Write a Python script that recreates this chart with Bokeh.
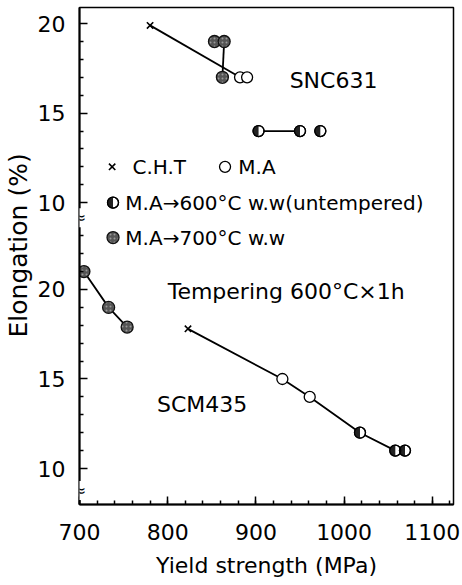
from math import pi
from bokeh.plotting import figure
from bokeh.models import Range1d, FixedTicker, Label, Title
from bokeh.embed import file_html
from bokeh.resources import INLINE

# ---------------- data ----------------
# Upper panel: SNC631 (elongation %)
snc_cht_x = [780]
snc_cht_y = [19.9]
snc_ma_x = [882, 890]
snc_ma_y = [17.0, 17.0]
snc_w600_x = [903, 950, 973]
snc_w600_y = [14.0, 14.0, 14.0]
snc_w700_x = [853, 864, 862]
snc_w700_y = [19.0, 19.0, 17.0]

# Lower panel: SCM435 (elongation %)
scm_w700_x = [705, 733, 754]
scm_w700_y = [21.0, 19.0, 17.9]
scm_cht_x = [823]
scm_cht_y = [17.8]
scm_ma_x = [930, 961]
scm_ma_y = [15.0, 14.0]
scm_w600_x = [1018, 1058, 1069]
scm_w600_y = [12.0, 11.0, 11.0]

x_major = [700, 800, 900, 1000, 1100]
y_major = [10, 15, 20]
y_minor_lower = [11, 12, 13, 14, 16, 17, 18, 19, 21, 22, 23]
y_minor_upper = [11, 12, 13, 14, 16, 17, 18, 19]

# ---------------- layout ----------------
FONT = "DejaVu Sans"
OFF = 14.85          # offset of the upper panel on the shared axis
Y0, Y1 = 7.99, 35.75

p = figure(width=462, height=585, output_backend="svg", toolbar_location=None,
           x_range=Range1d(700, 1124), y_range=Range1d(Y0, Y1),
           min_border_left=79, min_border_right=9, min_border_top=7,
           min_border_bottom=81)
p.extra_y_ranges = {"up": Range1d(Y0 - OFF, Y1 - OFF)}
p.background_fill_color = "white"
p.border_fill_color = "white"
p.grid.visible = False
p.outline_line_color = "black"
p.outline_line_width = 1.5

# axes
p.xaxis.ticker = FixedTicker(ticks=x_major,
                             minor_ticks=[v for v in range(700, 1121, 20)])
yt = y_major + [v + OFF for v in y_major]
ym = y_minor_lower + [v + OFF for v in y_minor_upper]
p.yaxis.ticker = FixedTicker(ticks=yt, minor_ticks=ym)
over = {}
for v in y_major:
    over[v] = str(v)
    over[v + OFF] = str(v)
p.yaxis.major_label_overrides = over

for ax in (p.xaxis, p.yaxis):
    ax.axis_line_width = 2
    ax.axis_line_color = "black"
    ax.major_tick_in = 8
    ax.major_tick_out = 0
    ax.minor_tick_in = 4
    ax.minor_tick_out = 0
    ax.major_tick_line_width = 1.5
    ax.minor_tick_line_width = 1.5
    ax.major_tick_line_color = "black"
    ax.minor_tick_line_color = "black"
    ax.major_label_text_font = FONT
    ax.major_label_text_font_size = "22px"
    ax.major_label_text_color = "black"
p.yaxis.major_label_standoff = 14
p.xaxis.major_label_standoff = 19
p.xaxis.axis_label = "Yield strength (MPa)"
p.xaxis.axis_label_text_font = FONT
p.xaxis.axis_label_text_font_size = "22px"
p.xaxis.axis_label_text_font_style = "normal"
p.xaxis.axis_label_text_color = "black"
p.xaxis.axis_label_standoff = 10

p.add_layout(Title(text="Elongation (%)", align="left", offset=167,
                   text_font=FONT, text_font_size="25px",
                   text_font_style="normal", text_color="black",
                   standoff=3), "left")

# axis break marks
for yb in (24.0, 8.77):
    p.add_layout(Label(x=700, y=yb, text="≈", text_align="center",
                       text_baseline="middle", text_font=FONT,
                       text_font_size="16px", text_color="black",
                       background_fill_color="white"))

LW = 1.8


def cross(x, y, **kw):
    p.scatter(x, y, marker="x", size=9, line_color="black", line_width=1.6, **kw)


def open_c(x, y, **kw):
    p.scatter(x, y, marker="circle", size=11, fill_color="white",
              line_color="black", line_width=1.3, **kw)


def half_c(x, y, **kw):
    p.scatter(x, y, marker="circle", size=11, fill_color="white",
              line_color="black", line_width=1.3, **kw)
    p.wedge(x, y, radius=5.5, radius_units="screen", start_angle=pi / 2,
            end_angle=3 * pi / 2, fill_color="#222222", line_color=None, **kw)
    p.scatter(x, y, marker="circle", size=11, fill_color=None,
              line_color="black", line_width=1.3, **kw)


def dark_c(x, y, **kw):
    p.scatter(x, y, marker="circle", size=12, fill_color="#555555",
              line_color="#111111", line_width=1.3, hatch_pattern="dot",
              hatch_color="#999999", hatch_scale=4, **kw)


# ---- upper panel lines (SNC631)
p.line([snc_cht_x[0], snc_ma_x[0]], [snc_cht_y[0], snc_ma_y[0]],
       line_color="black", line_width=LW, y_range_name="up")
p.line([snc_w700_x[1], snc_w700_x[2]], [snc_w700_y[1], snc_w700_y[2]],
       line_color="black", line_width=LW, y_range_name="up")
p.line(snc_w600_x[:2], snc_w600_y[:2], line_color="black", line_width=LW,
       y_range_name="up")

# ---- lower panel lines (SCM435)
p.line(scm_w700_x, scm_w700_y, line_color="black", line_width=LW)
p.line(scm_cht_x + scm_ma_x + scm_w600_x[:2],
       scm_cht_y + scm_ma_y + scm_w600_y[:2], line_color="black", line_width=LW)

# ---- markers
cross(snc_cht_x, snc_cht_y, y_range_name="up")
open_c(snc_ma_x, snc_ma_y, y_range_name="up")
half_c(snc_w600_x, snc_w600_y, y_range_name="up")
dark_c(snc_w700_x, snc_w700_y, y_range_name="up")

dark_c(scm_w700_x, scm_w700_y)
cross(scm_cht_x, scm_cht_y)
open_c(scm_ma_x, scm_ma_y)
half_c(scm_w600_x, scm_w600_y)

# ---- texts
TXT = dict(text_baseline="middle", text_font=FONT, text_color="black")
p.add_layout(Label(x=988, y=16.85 + OFF, text="SNC631", text_align="center",
                   text_font_size="22px", **TXT))
p.add_layout(Label(x=839, y=13.6, text="SCM435", text_align="center",
                   text_font_size="22px", **TXT))
p.add_layout(Label(x=800, y=19.9, text="Tempering  600°C×1h", text_align="left",
                   text_font_size="22px", **TXT))

# ---- legend (hand-built, upper panel coordinates)
cross([737], [12.0], y_range_name="up")
open_c([865], [12.0], y_range_name="up")
half_c([738], [10.0], y_range_name="up")
dark_c([738], [8.05], y_range_name="up")
for lx, ly, t in ((760, 12.0, "C.H.T"), (880, 12.0, "M.A"),
                  (752, 10.0, "M.A→600°C w.w(untempered)"),
                  (752, 8.05, "M.A→700°C w.w")):
    p.add_layout(Label(x=lx, y=ly + OFF, text=t, text_align="left",
                       text_font_size="20px", **TXT))

open("out.html", "w").write(file_html(p, INLINE))
